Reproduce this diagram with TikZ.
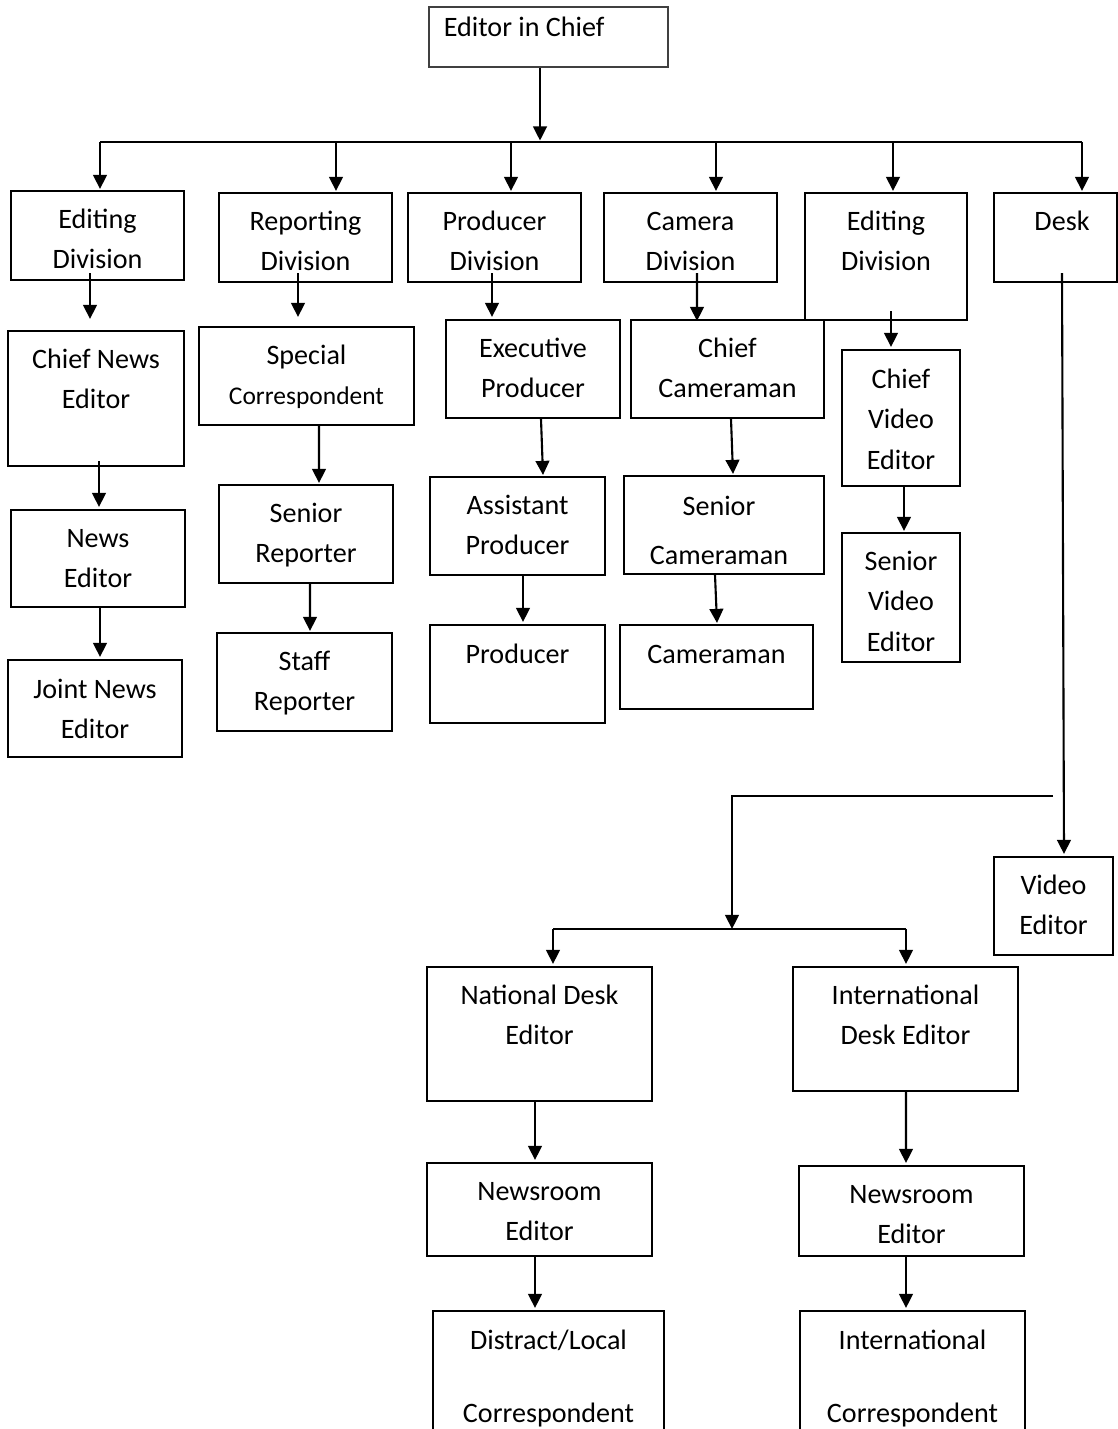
\documentclass[tikz,border=0pt]{standalone}
\usepackage{fontspec}
\setmainfont{Carlito}
\usetikzlibrary{fit,positioning,arrows.meta}
\tikzset{
 unit/.style={draw, shape=rectangle, line width=1.2pt, inner sep=0pt}
}

\begin{document}
\begin{tikzpicture}[x=0.02cm,y=-0.02cm]
\tikzstyle{txt}=[anchor=north, yshift=0.573cm, align=center, inner sep=0pt, font=\fontsize{16}{23.2}\selectfont]
\tikzstyle{connect}=[-{Triangle[width=7.8pt,length=8pt]}, line width=1.2pt]
\tikzstyle{wire}=[line width=1.2pt]
\clip (0,0) rectangle (1118,1429);
% 1. Boxes
%%%%%%%%%%
\node[unit, draw=black!75, line width=0.6pt, fit={(429,7) (668,67)}] (chief) {};
\node[unit, fit={(11,191) (184,280)}] (editA) {};
\node[unit, fit={(219,193) (392,282)}] (report) {};
\node[unit, fit={(408,193) (581,282)}] (prod) {};
\node[unit, fit={(604,193) (777,282)}] (camera) {};
\node[unit, fit={(805,193) (967,320)}] (editB) {};
\node[unit, fit={(994,193) (1117,282)}] (desk) {};

\node[unit, fit={(8,331) (184,466)}] (chiefNE) {};
\node[unit, fit={(199,327) (414,425)}] (special) {};
\node[unit, fit={(446,320) (620,418)}] (exec) {};
\node[unit, fit={(631,320) (824,418)}] (chiefCam) {};
\node[unit, fit={(842,350) (960,486)}] (chiefVE) {};

\node[unit, fit={(11,510) (185,607)}] (newsEd) {};
\node[unit, fit={(8,660) (182,757)}] (joint) {};
\node[unit, fit={(219,485) (393,583)}] (seniorRep) {};
\node[unit, fit={(217,633) (392,731)}] (staffRep) {};
\node[unit, fit={(430,477) (605,575)}] (asstProd) {};
\node[unit, fit={(430,625) (605,723)}] (producer) {};
\node[unit, fit={(624,476) (824,574)}] (seniorCam) {};
\node[unit, fit={(620,625) (813,709)}] (cameraman) {};
\node[unit, fit={(842,533) (960,662)}] (seniorVE) {};

\node[unit, fit={(994,857) (1113,955)}] (videoEd) {};
\node[unit, fit={(427,967) (652,1101)}] (national) {};
\node[unit, fit={(793,967) (1018,1091)}] (intl) {};
\node[unit, fit={(427,1163) (652,1256)}] (newsroomA) {};
\node[unit, fit={(799,1166) (1024,1256)}] (newsroomB) {};
\node[unit, fit={(433,1311) (664,1470)}] (distract) {};
\node[unit, fit={(800,1311) (1025,1470)}] (intlCorr) {};

% 2. Texts
%%%%%%%%%%
\node[anchor=base west, inner sep=0pt, font=\fontsize{16}{23.2}\selectfont] (chief-t) at ([shift={(15,30)}]chief.north west) {Editor in Chief};
\node[txt] (editA-t) at ([shift={(0,38)}]editA.north) {\strut Editing\\Division};
\node[txt] (report-t) at ([shift={(0,38)}]report.north) {\strut Reporting\\Division};
\node[txt] (prod-t) at ([shift={(0,38)}]prod.north) {\strut Producer\\Division};
\node[txt] (camera-t) at ([shift={(0,38)}]camera.north) {\strut Camera\\Division};
\node[txt] (editB-t) at ([shift={(0,38)}]editB.north) {\strut Editing\\Division};
\node[txt] (desk-t) at ([shift={(6.5,38)}]desk.north) {\strut Desk};

\node[txt] (chiefNE-t) at ([shift={(0,38)}]chiefNE.north) {\strut Chief News\\Editor};
\node[txt] (special-t) at ([shift={(0,38)}]special.north) {\strut Special\\{\fontsize{14.5}{20}\selectfont Correspondent}};
\node[txt] (exec-t) at ([shift={(0,38)}]exec.north) {\strut Executive\\Producer};
\node[txt] (chiefCam-t) at ([shift={(0,38)}]chiefCam.north) {\strut Chief\\Cameraman};
\node[txt] (chiefVE-t) at ([shift={(0,39)}]chiefVE.north) {\strut Chief\\Video\\Editor};

\node[txt] (newsEd-t) at ([shift={(0,38)}]newsEd.north) {\strut News\\Editor};
\node[txt] (joint-t) at ([shift={(0,39)}]joint.north) {\strut Joint News\\Editor};
\node[txt] (seniorRep-t) at ([shift={(0,38)}]seniorRep.north) {\strut Senior\\Reporter};
\node[txt] (staffRep-t) at ([shift={(0,38)}]staffRep.north) {\strut Staff\\Reporter};
\node[txt] (asstProd-t) at ([shift={(0,38)}]asstProd.north) {\strut Assistant\\Producer};
\node[txt] (producer-t) at ([shift={(0,39)}]producer.north) {\strut Producer};
\node[txt] (seniorCam-t) at ([shift={(-5,40)}]seniorCam.north) {\strut Senior\\[0.18cm]Cameraman};
\node[txt] (cameraman-t) at ([shift={(0,39)}]cameraman.north) {\strut Cameraman};
\node[txt] (seniorVE-t) at ([shift={(0,38)}]seniorVE.north) {\strut Senior\\Video\\Editor};

\node[txt] (videoEd-t) at ([shift={(0,38)}]videoEd.north) {\strut Video\\Editor};
\node[txt] (national-t) at ([shift={(0,38)}]national.north) {\strut National Desk\\Editor};
\node[txt] (intl-t) at ([shift={(0,38)}]intl.north) {\strut International\\Desk Editor};
\node[txt] (newsroomA-t) at ([shift={(0,38)}]newsroomA.north) {\strut Newsroom\\Editor};
\node[txt] (newsroomB-t) at ([shift={(0,38)}]newsroomB.north) {\strut Newsroom\\Editor};
\node[txt] (distract-t) at ([shift={(0,39)}]distract.north) {\strut Distract/Local\\[0.66cm]Correspondent};
\node[txt] (intlCorr-t) at ([shift={(0,39)}]intlCorr.north) {\strut International\\[0.66cm]Correspondent};

% 3. Arrows
%%%%%%%%%%%
\draw[connect] ([shift={(-8.5,0)}]chief.south) -- ([shift={(-8.5,73)}]chief.south);
\draw[wire] ([shift={(2.5,-48)}]editA.north) -- ([shift={(26.5,-50)}]desk.north);
\draw[connect] ([shift={(2.5,-48)}]editA.north) -- ([shift={(2.5,-1)}]editA.north);
\foreach \n/\dx in {report/30.5, prod/16.5, camera/25.5, editB/7, desk/26.5}
  \draw[connect] ([shift={(\dx,-50)}]\n.north) -- ([shift={(\dx,-1)}]\n.north);

\draw[connect] ([shift={(-7.5,-8)}]editA.south) -- ([shift={(-6,-11)}]chiefNE.north);
\draw[connect] ([shift={(-7.5,-10)}]report.south) -- ([shift={(-8.5,-9)}]special.north);
\draw[connect] ([shift={(-2.5,-10)}]prod.south) -- ([shift={(-41,-2)}]exec.north);
\draw[connect] ([shift={(6.5,-10)}]camera.south) -- ([shift={(-30.5,2)}]chiefCam.north);
\draw[connect] ([shift={(5,-10)}]editB.south) -- ([shift={(-10,-2)}]chiefVE.north);

\draw[connect] ([shift={(3,-6)}]chiefNE.south) -- ([shift={(1,-2)}]newsEd.north);
\draw[connect] ([shift={(2,0)}]newsEd.south) -- ([shift={(5,-2)}]joint.north);
\draw[connect] ([shift={(12.5,0)}]special.south) -- ([shift={(13,-1)}]seniorRep.north);
\draw[connect] ([shift={(4,0)}]seniorRep.south) -- ([shift={(5.5,-1)}]staffRep.north);
\draw[connect] ([shift={(8,0)}]exec.south) -- ([shift={(25.5,-1)}]asstProd.north);
\draw[connect] ([shift={(5.5,0)}]asstProd.south) -- ([shift={(5.5,-2)}]producer.north);
\draw[connect] ([shift={(3.5,0)}]chiefCam.south) -- ([shift={(9,-1)}]seniorCam.north);
\draw[connect] ([shift={(-9,0)}]seniorCam.south) -- ([shift={(0.5,-1)}]cameraman.north);
\draw[connect] ([shift={(3,0)}]chiefVE.south) -- ([shift={(3,-1)}]seniorVE.north);

\draw[connect] ([shift={(6.5,-10)}]desk.south) -- ([shift={(10.5,-2)}]videoEd.north);
\coordinate (deskfork) at ([shift={(-0.5,-60)}]videoEd.north);
\coordinate (deskjoin) at ([shift={(192.5,-37)}]national.north);
\draw[connect] (deskfork) -| (deskjoin);
\draw[wire] ([shift={(13.5,-37)}]national.north) -- ([shift={(0.5,-37)}]intl.north);
\draw[connect] ([shift={(13.5,-37)}]national.north) -- ([shift={(13.5,-2)}]national.north);
\draw[connect] ([shift={(0.5,-37)}]intl.north) -- ([shift={(0.5,-2)}]intl.north);

\draw[connect] ([shift={(-4.5,0)}]national.south) -- ([shift={(-4.5,-2)}]newsroomA.north);
\draw[connect] ([shift={(0.5,0)}]intl.south) -- ([shift={(-5.5,-2)}]newsroomB.north);
\draw[connect] ([shift={(-4.5,0)}]newsroomA.south) -- ([shift={(-13.5,-2)}]distract.north);
\draw[connect] ([shift={(-5.5,0)}]newsroomB.south) -- ([shift={(-6.5,-2)}]intlCorr.north);

\end{tikzpicture}
\end{document}
